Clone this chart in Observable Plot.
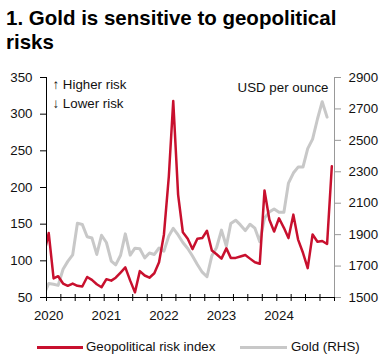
<!DOCTYPE html>
<html><head><meta charset="utf-8">
<script src="https://cdn.jsdelivr.net/npm/d3@7"></script>
<script src="https://cdn.jsdelivr.net/npm/@observablehq/plot@0.6"></script>
<style>
body{margin:0;background:#fff;font-family:Arial,"Liberation Sans",sans-serif;color:#111;width:381px;}
#title{font-weight:bold;font-size:20.5px;line-height:24px;padding:6px 0 0 6px;height:48px;width:350px;color:#000;}
#legend{position:relative;height:29px;font-size:13.3px;}
#legend .ln{position:absolute;height:3px;top:17.5px;}
#legend .tx{position:absolute;top:11px;line-height:16px;white-space:nowrap;}
</style></head><body>
<div id="title">1. Gold is sensitive to geopolitical risks</div>
<div id="chart"></div>
<div id="legend">
  <div class="ln" style="left:37px;width:46px;background:#C8102E"></div>
  <div class="tx" style="left:86px" id="l1"></div>
  <div class="ln" style="left:240px;width:47px;background:#C8C8C8"></div>
  <div class="tx" style="left:291px" id="l2"></div>
</div>
<script>
// Data: monthly, starting Dec 2019
const startMonth = [2019, 11];
const seriesNames = ["Geopolitical risk index", "Gold (RHS)"];
const gpr = [108,
  138,76,79,69,66,69,66,65,78,74,68,64,
  75,73,77,84,91,73,57,86,80,77,83,98,
  136,215,318,190,139,130,116,130,131,141,114,109,
  103,117,104,104,106,108,103,98,96,196,156,140,
  158,145,131,163,129,111,90,136,126,127,123,229];
const gold = [1517,
  1589,1584,1577,1680,1730,1771,1973,1965,1887,1879,1774,1896,
  1850,1732,1708,1769,1905,1770,1814,1810,1752,1783,1774,1815,
  1795,1892,1940,1898,1850,1812,1764,1710,1661,1632,1766,1818,
  1929,1826,1971,1992,1962,1926,1966,1941,1855,2005,2045,2063,
  2042,2043,2228,2292,2330,2330,2447,2508,2636,2746,2648];
const leftTicks = [50,100,150,200,250,300,350];
const rightTicks = [1500,1700,1900,2100,2300,2500,2700,2900];
const years = [2020,2021,2022,2023,2024];
const annotations = ["\u2191 Higher risk", "\u2193 Lower risk"];
const unitLabel = "USD per ounce";

const leftDomain = [50, 350];
const rightDomain = [1500, 2900];
const toLeft = g => leftDomain[0] + (g - rightDomain[0]) * (leftDomain[1]-leftDomain[0]) / (rightDomain[1]-rightDomain[0]);
const fromLeft = v => rightDomain[0] + (v - leftDomain[0]) * (rightDomain[1]-rightDomain[0]) / (leftDomain[1]-leftDomain[0]);

const monthDate = i => new Date(Date.UTC(startMonth[0], startMonth[1] + i, 15));
const gprRows = gpr.map((v, i) => ({date: monthDate(i), v}));
const goldRows = gold.map((v, i) => ({date: monthDate(i), v}));

const xDomain = [new Date(Date.UTC(2020,0,1)), new Date(Date.UTC(2025,0,1))];
const quarters = d3.utcMonth.every(3).range(xDomain[0], new Date(Date.UTC(2025,0,2)));
const yearLabelDates = years.map(y => new Date(Date.UTC(y,0,15)));

const W = 381, H = 274, mL = 46, mR = 47, mT = 23, mB = 31;
const innerH = H - mT - mB;
const red = "#C8102E", grey = "#C8C8C8", font = "Arial, 'Liberation Sans', sans-serif";

document.getElementById("l1").textContent = seriesNames[0];
document.getElementById("l2").textContent = seriesNames[1];

const chart = Plot.plot({
  width: W, height: H, marginLeft: mL, marginRight: mR, marginTop: mT, marginBottom: mB,
  style: {fontFamily: font, fontSize: "13.3px", color: "#111", background: "#fff", overflow: "visible"},
  x: {type: "utc", domain: xDomain, axis: null, label: null},
  y: {domain: leftDomain, axis: null, label: null},
  marks: [
    Plot.lineY(goldRows, {x: "date", y: d => toLeft(d.v), stroke: grey, strokeWidth: 3, clip: true}),
    Plot.lineY(gprRows, {x: "date", y: "v", stroke: red, strokeWidth: 2.5, clip: true}),
    Plot.axisY(leftTicks, {anchor: "left", label: null, tickSize: 6, tickPadding: 8, fontSize: 13.3, stroke: "#000", fill: "#111"}),
    Plot.axisY(rightTicks.map(toLeft), {anchor: "right", label: null, tickSize: 6, tickPadding: 8, fontSize: 13.3, stroke: "#999", fill: "#111",
      tickFormat: d => String(Math.round(fromLeft(d)))}),
    Plot.axisX(yearLabelDates, {anchor: "bottom", label: null, tickSize: 0, tickPadding: 13, fontSize: 13.3, fill: "#111",
      tickFormat: d => String(d.getUTCFullYear())}),
    Plot.ruleX(quarters, {insetTop: innerH - 3, insetBottom: -4, stroke: "#000"}),
    Plot.ruleX([xDomain[0]], {stroke: "#000"}),
    Plot.ruleX([xDomain[1]], {stroke: "#999"}),
    Plot.ruleY([leftDomain[0]], {stroke: "#000"}),
    Plot.text([annotations[0]], {text: d => d, frameAnchor: "top-left", dx: 6, dy: 7, textAnchor: "start", lineAnchor: "middle", fontSize: 13.3, fill: "#111"}),
    Plot.text([annotations[1]], {text: d => d, frameAnchor: "top-left", dx: 6, dy: 26, textAnchor: "start", lineAnchor: "middle", fontSize: 13.3, fill: "#111"}),
    Plot.text([unitLabel], {text: d => d, frameAnchor: "top-right", dx: -6, dy: 10, textAnchor: "end", lineAnchor: "middle", fontSize: 13.3, fill: "#111"})
  ]
});
document.getElementById("chart").appendChild(chart);
</script>
</body></html>
